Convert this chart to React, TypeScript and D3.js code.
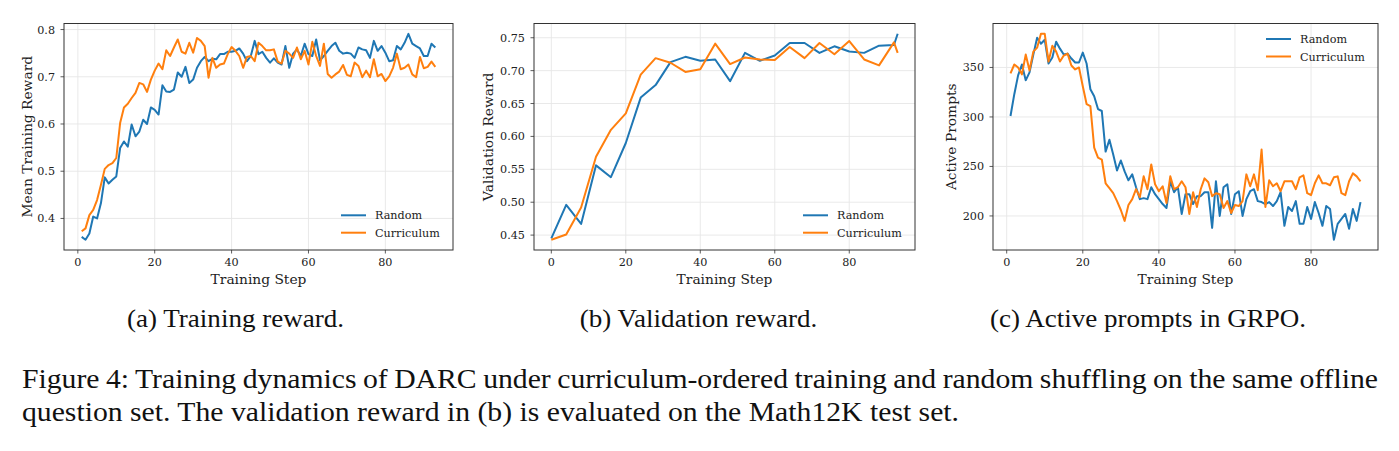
import React, { useLayoutEffect, useRef, useState } from "react";
import * as d3 from "d3";

// ---------- data ----------
const trainSteps = d3.range(1, 94);
const trainRandom = [
  0.361, 0.355, 0.368, 0.404, 0.4, 0.432, 0.487, 0.474, 0.482, 0.489,
  0.549, 0.563, 0.552, 0.599, 0.574, 0.584, 0.609, 0.6, 0.635, 0.63,
  0.62, 0.682, 0.669, 0.668, 0.673, 0.709, 0.7, 0.721, 0.687, 0.694,
  0.719, 0.733, 0.742, 0.733, 0.738, 0.737, 0.748, 0.748, 0.753, 0.753,
  0.755, 0.76, 0.749, 0.733, 0.744, 0.776, 0.748, 0.753, 0.74, 0.73,
  0.739, 0.73, 0.726, 0.765, 0.719, 0.749, 0.758, 0.744, 0.77, 0.748,
  0.744, 0.779, 0.735, 0.744, 0.755, 0.765, 0.772, 0.755, 0.749, 0.751,
  0.749, 0.74, 0.762, 0.758, 0.756, 0.74, 0.776, 0.755, 0.765, 0.751,
  0.733, 0.735, 0.765, 0.758, 0.772, 0.791, 0.77, 0.765, 0.76, 0.744,
  0.744, 0.77, 0.762,
];
const trainCurriculum = [
  0.373, 0.379, 0.407, 0.418, 0.439, 0.471, 0.505, 0.513, 0.517, 0.528,
  0.602, 0.635, 0.643, 0.655, 0.666, 0.687, 0.684, 0.668, 0.694, 0.713,
  0.728, 0.716, 0.756, 0.744, 0.762, 0.779, 0.753, 0.749, 0.772, 0.751,
  0.782, 0.776, 0.765, 0.698, 0.74, 0.719, 0.726, 0.728, 0.748, 0.763,
  0.755, 0.744, 0.719, 0.742, 0.744, 0.733, 0.772, 0.765, 0.756, 0.756,
  0.758, 0.732, 0.728, 0.755, 0.749, 0.74, 0.762, 0.737, 0.755, 0.726,
  0.774, 0.744, 0.723, 0.77, 0.706, 0.698, 0.705, 0.711, 0.725, 0.704,
  0.701, 0.73, 0.723, 0.699, 0.713, 0.699, 0.737, 0.701, 0.706, 0.691,
  0.701, 0.719, 0.749, 0.716, 0.719, 0.726, 0.705, 0.699, 0.742, 0.718,
  0.721, 0.732, 0.721,
];

const valSteps = [0, 4, 8, 12, 16, 20, 24, 28, 32, 36, 40, 44, 48, 52, 56, 60, 64, 68, 72, 76, 80, 84, 88, 92, 93];
const valRandom = [
  0.445, 0.496, 0.467, 0.556, 0.538, 0.59, 0.659, 0.678, 0.713, 0.721,
  0.715, 0.717, 0.684, 0.727, 0.715, 0.723, 0.742, 0.742, 0.727, 0.737,
  0.729, 0.727, 0.738, 0.739, 0.756,
];
const valCurriculum = [
  0.443, 0.451, 0.492, 0.569, 0.61, 0.635, 0.694, 0.719, 0.712, 0.698,
  0.702, 0.741, 0.71, 0.72, 0.717, 0.716, 0.736, 0.719, 0.742, 0.725,
  0.745, 0.717, 0.708, 0.743, 0.727,
];

const promptSteps = d3.range(1, 94);
const promptRandom = [
  301, 323, 342, 353, 337, 345, 363, 380, 374, 378,
  354, 360, 376, 369, 363, 364, 359, 355, 355, 365,
  354, 328, 321, 308, 306, 265, 277, 262, 246, 256,
  245, 236, 242, 229, 217, 218, 217, 229, 222, 217,
  212, 208, 235, 224, 229, 202, 222, 222, 212, 220,
  220, 224, 224, 188, 235, 200, 229, 232, 202, 222,
  225, 200, 217, 225, 227, 215, 214, 212, 214, 210,
  215, 224, 190, 209, 205, 215, 192, 192, 209, 197,
  214, 203, 190, 210, 207, 176, 192, 197, 202, 187,
  207, 195, 214,
];
const promptCurriculum = [
  344, 353, 350, 343, 363, 347, 366, 370, 384, 384,
  356, 372, 366, 356, 362, 364, 352, 348, 350, 331,
  313, 311, 269, 259, 257, 233, 228, 223, 215, 206,
  195, 211, 217, 227, 219, 240, 227, 252, 232, 225,
  230, 213, 240, 227, 229, 235, 229, 202, 224, 209,
  227, 238, 234, 220, 223, 222, 208, 215, 203, 211,
  210, 215, 242, 230, 242, 226, 267, 209, 236, 230,
  233, 225, 235, 235, 235, 227, 239, 241, 223, 221,
  233, 241, 233, 233, 231, 239, 240, 223, 221, 235,
  243, 240, 235,
];

const xTicks = [0, 20, 40, 60, 80];
const trainYTicks = [0.4, 0.5, 0.6, 0.7, 0.8];
const valYTicks = [0.45, 0.5, 0.55, 0.6, 0.65, 0.7, 0.75];
const promptYTicks = [200, 250, 300, 350];
const seriesNames = ["Random", "Curriculum"];
const seriesColors = ["#1f77b4", "#ff7f0e"];

const captionLine1 =
  "Figure 4: Training dynamics of DARC under curriculum-ordered training and random shuffling on the same offline";
const captionLine2 = "question set. The validation reward in (b) is evaluated on the Math12K test set.";

// ---------- drawing ----------
const FONT = "'DejaVu Serif', serif";
const CAP_FONT = "'Liberation Serif', 'Times New Roman', serif";
const TOP = 23.5;
const BOTTOM = 250;
const TICK_FS = 11.2;
const LABEL_FS = 13.8;

function pad(vals: number[]): [number, number] {
  const [lo, hi] = d3.extent(vals) as [number, number];
  const m = (hi - lo) * 0.05;
  return [lo - m, hi + m];
}

type PanelProps = {
  left: number;
  right: number;
  steps: number[];
  a: number[];
  b: number[];
  yTicks: number[];
  yFmt: (v: number) => string;
  yLabel: string;
  yLabelX: number;
  legendTop: boolean;
  caption: string;
  captionX: number;
};

function Panel(p: PanelProps) {
  const x = d3.scaleLinear().domain(pad(p.steps)).range([p.left, p.right]);
  const y = d3.scaleLinear().domain(pad([...p.a, ...p.b])).range([BOTTOM, TOP]);
  const line = d3
    .line<number>()
    .x((_, i) => x(p.steps[i]))
    .y((d) => y(d));
  const cy = (TOP + BOTTOM) / 2;
  const legendRows = p.legendTop ? [TOP + 15.5, TOP + 33] : [BOTTOM - 34.7, BOTTOM - 17.3];
  return (
    <g>
      {xTicks.map((t) => (
        <line key={"gx" + t} x1={x(t)} x2={x(t)} y1={TOP} y2={BOTTOM} stroke="#e6e6e6" strokeWidth={0.9} />
      ))}
      {p.yTicks.map((t) => (
        <line key={"gy" + t} x1={p.left} x2={p.right} y1={y(t)} y2={y(t)} stroke="#e6e6e6" strokeWidth={0.9} />
      ))}
      <path d={line(p.a) || ""} fill="none" stroke={seriesColors[0]} strokeWidth={2} strokeLinejoin="round" />
      <path d={line(p.b) || ""} fill="none" stroke={seriesColors[1]} strokeWidth={2} strokeLinejoin="round" />
      <rect x={p.left} y={TOP} width={p.right - p.left} height={BOTTOM - TOP} fill="none" stroke="#333" strokeWidth={1} />
      {xTicks.map((t) => (
        <g key={"tx" + t}>
          <line x1={x(t)} x2={x(t)} y1={BOTTOM} y2={BOTTOM + 3.5} stroke="#333" strokeWidth={0.8} />
          <text x={x(t)} y={266} textAnchor="middle" fontFamily={FONT} fontSize={TICK_FS} fill="#222">
            {t}
          </text>
        </g>
      ))}
      {p.yTicks.map((t) => (
        <g key={"ty" + t}>
          <line x1={p.left - 3.5} x2={p.left} y1={y(t)} y2={y(t)} stroke="#333" strokeWidth={0.8} />
          <text x={p.left - 9} y={y(t)} dy="0.36em" textAnchor="end" fontFamily={FONT} fontSize={TICK_FS} fill="#222">
            {p.yFmt(t)}
          </text>
        </g>
      ))}
      <text x={(p.left + p.right) / 2} y={284} textAnchor="middle" fontFamily={FONT} fontSize={LABEL_FS} fill="#222">
        Training Step
      </text>
      <text
        transform={`translate(${p.yLabelX},${cy}) rotate(-90)`}
        textAnchor="middle"
        fontFamily={FONT}
        fontSize={LABEL_FS}
        fill="#222"
      >
        {p.yLabel}
      </text>
      {seriesNames.map((n, i) => (
        <g key={n}>
          <line
            x1={p.right - 112}
            x2={p.right - 87}
            y1={legendRows[i]}
            y2={legendRows[i]}
            stroke={seriesColors[i]}
            strokeWidth={2}
          />
          <text x={p.right - 78} y={legendRows[i]} dy="0.36em" fontFamily={FONT} fontSize={TICK_FS} fill="#222">
            {n}
          </text>
        </g>
      ))}
      <text
        transform={`translate(${p.captionX},327) scale(1.04,1)`}
        textAnchor="middle"
        fontFamily={CAP_FONT}
        fontSize={26}
        fill="#111"
      >
        {p.caption}
      </text>
    </g>
  );
}

function CaptionLine(props: { text: string; x: number; y: number; width?: number; sx: number; fs: number }) {
  const ref = useRef<SVGTextElement>(null);
  const [ws, setWs] = useState(0);
  useLayoutEffect(() => {
    if (!props.width || !ref.current) return;
    const natural = ref.current.getComputedTextLength();
    const spaces = (props.text.match(/ /g) || []).length;
    const target = props.width / props.sx;
    if (spaces > 0) setWs((target - natural) / spaces);
  }, [props.text, props.width, props.sx]);
  return (
    <text
      ref={ref}
      transform={`translate(${props.x},${props.y}) scale(${props.sx},1)`}
      fontFamily={CAP_FONT}
      fontSize={props.fs}
      fill="#111"
      style={{ wordSpacing: ws + "px" }}
    >
      {props.text}
    </text>
  );
}

export default function App() {
  return (
    <svg
      width={1399}
      height={451}
      viewBox="0 0 1399 451"
      style={{ position: "absolute", left: 0, top: 0, background: "#fff" }}
    >
      <rect width={1399} height={451} fill="#fff" />
      <Panel
        left={64}
        right={453}
        steps={trainSteps}
        a={trainRandom}
        b={trainCurriculum}
        yTicks={trainYTicks}
        yFmt={(v) => v.toFixed(1)}
        yLabel="Mean Training Reward"
        yLabelX={31.5}
        legendTop={false}
        caption="(a) Training reward."
        captionX={235.5}
      />
      <Panel
        left={534}
        right={915}
        steps={valSteps}
        a={valRandom}
        b={valCurriculum}
        yTicks={valYTicks}
        yFmt={(v) => v.toFixed(2)}
        yLabel="Validation Reward"
        yLabelX={493}
        legendTop={false}
        caption="(b) Validation reward."
        captionX={698.5}
      />
      <Panel
        left={993}
        right={1378}
        steps={promptSteps}
        a={promptRandom}
        b={promptCurriculum}
        yTicks={promptYTicks}
        yFmt={(v) => String(v)}
        yLabel="Active Prompts"
        yLabelX={956}
        legendTop={true}
        caption="(c) Active prompts in GRPO."
        captionX={1148}
      />
      <CaptionLine text={captionLine1} x={22} y={388} width={1356} sx={1.1} fs={27} />
      <CaptionLine text={captionLine2} x={22} y={421} sx={1.1} fs={27} />
    </svg>
  );
}
